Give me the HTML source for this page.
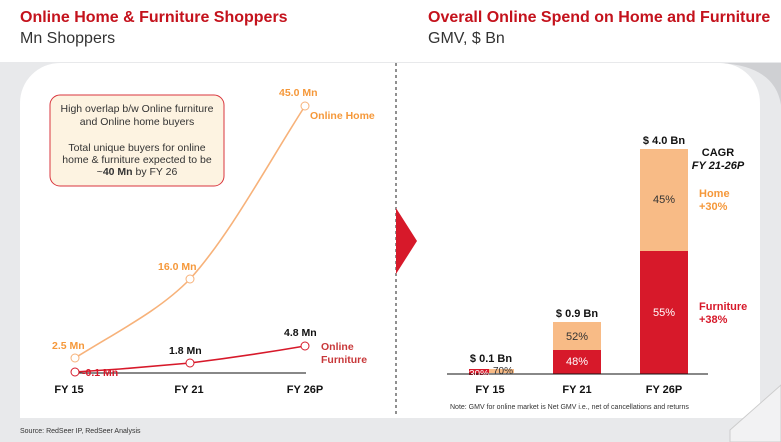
<!DOCTYPE html>
<html><head><style>
body{margin:0;width:781px;height:442px;background:#e8e9eb;font-family:"Liberation Sans",sans-serif;overflow:hidden;position:relative}
.t{position:absolute;font-size:16px;color:#222}
</style></head><body>
<div style="position:absolute;left:0;top:0;width:781px;height:62px;background:#fff"></div>
<svg width="781" height="442" style="position:absolute;left:0;top:0"><path d="M720 63 Q775 66 781 105 L781 63Z" fill="#cfd0d3"/></svg>
<div class="t" style="left:20px;top:9px;font-weight:bold;color:#c4121c">Online Home &amp; Furniture Shoppers</div>
<div class="t" style="left:20px;top:30px;color:#333">Mn Shoppers</div>
<div class="t" style="left:428px;top:9px;font-weight:bold;color:#c4121c">Overall Online Spend on Home and Furniture</div>
<div class="t" style="left:428px;top:30px;color:#333">GMV, $ Bn</div>
<div style="position:absolute;left:20px;top:63px;width:740px;height:355px;background:#fff;border-radius:40px 40px 0 0"></div>
<svg width="781" height="442" style="position:absolute;left:0;top:0" font-family="Liberation Sans, sans-serif">
<rect x="50" y="95" width="174" height="91" rx="10" fill="#fdf3e1" stroke="#d9363e" stroke-width="1"/>
<g font-size="10.5" fill="#333" text-anchor="middle">
<text x="137" y="112">High overlap b/w Online furniture</text>
<text x="137" y="125">and Online home buyers</text>
<text x="137" y="151">Total unique buyers for online</text>
<text x="137" y="163">home &amp; furniture expected to be</text>
<text x="137" y="175">~<tspan font-weight="bold">40 Mn</tspan> by FY 26</text>
</g>
<line x1="78" y1="373" x2="306" y2="373" stroke="#111" stroke-width="1"/>
<path d="M75 358 C120 330,160 310,190 279 C230 235,270 160,305 106" fill="none" stroke="#f7b27a" stroke-width="1.6"/>
<path d="M75 372 L120 369 L190 363 C230 358,270 352,305 346" fill="none" stroke="#d7192a" stroke-width="1.6"/>
<g fill="#fff" stroke-width="1"><circle cx="75" cy="358" r="4" stroke="#f7b27a"/><circle cx="190" cy="279" r="4" stroke="#f7b27a"/><circle cx="305" cy="106" r="4" stroke="#f7b27a"/>
<circle cx="75" cy="372" r="4" stroke="#d7192a"/><circle cx="190" cy="363" r="4" stroke="#d7192a"/><circle cx="305" cy="346" r="4" stroke="#d7192a"/></g>
<g font-size="10.5" font-weight="bold">
<text x="52" y="349" fill="#f5983a">2.5 Mn</text>
<text x="158" y="270" fill="#f5983a">16.0 Mn</text>
<text x="279" y="96" fill="#f5983a">45.0 Mn</text>
<text x="310" y="119" fill="#f5983a">Online Home</text>
<text x="82" y="376" fill="#d7192a">-0.1 Mn</text>
<text x="169" y="354" fill="#111">1.8 Mn</text>
<text x="284" y="336" fill="#111">4.8 Mn</text>
<text x="321" y="350" fill="#c8383a">Online</text>
<text x="321" y="363" fill="#c8383a">Furniture</text>
<g fill="#111" text-anchor="middle" font-size="11"><text x="69" y="393">FY 15</text><text x="189" y="393">FY 21</text><text x="305" y="393">FY 26P</text>
<text x="490" y="393">FY 15</text><text x="577" y="393">FY 21</text><text x="664" y="393">FY 26P</text></g>
</g>
<line x1="396" y1="63" x2="396" y2="415" stroke="#222" stroke-dasharray="3,3"/>
<polygon points="396,208 417,241 396,274" fill="#d7192a"/>
<rect x="553" y="322" width="48" height="28" fill="#f8bb86"/><rect x="553" y="350" width="48" height="24" fill="#d7192a"/>
<rect x="640" y="149" width="48" height="102" fill="#f8bb86"/><rect x="640" y="251" width="48" height="123" fill="#d7192a"/>
<rect x="469" y="369" width="20" height="6" fill="#d7192a"/><rect x="489" y="369" width="25" height="4" fill="#f8bb86"/>
<line x1="447" y1="374" x2="708" y2="374" stroke="#111"/>
<g font-size="11" text-anchor="middle">
<text x="577" y="340" fill="#333">52%</text><text x="577" y="365" fill="#fff">48%</text>
<text x="664" y="203" fill="#333">45%</text><text x="664" y="316" fill="#fff">55%</text>
<text x="479" y="377" fill="#fff" font-size="10">30%</text><text x="503" y="374" fill="#333" font-size="10">70%</text>
<g font-weight="bold" fill="#111"><text x="491" y="362">$ 0.1 Bn</text><text x="577" y="317">$ 0.9 Bn</text><text x="664" y="144">$ 4.0 Bn</text>
<text x="718" y="156">CAGR</text><text x="718" y="169" font-style="italic">FY 21-26P</text></g>
</g>
<g font-size="11" font-weight="bold"><text x="699" y="197" fill="#f5983a">Home</text><text x="699" y="210" fill="#f5983a">+30%</text>
<text x="699" y="310" fill="#d7192a">Furniture</text><text x="699" y="323" fill="#d7192a">+38%</text></g>
<text x="450" y="409" font-size="7" fill="#333">Note: GMV for online market is Net GMV i.e., net of cancellations and returns</text>
<text x="20" y="433" font-size="7" fill="#333">Source: RedSeer IP, RedSeer Analysis</text>
<path d="M730 430 L781 385 L781 442 L730 442Z" fill="#f2f2f3" stroke="#ccc"/>
</svg>
</body></html>
